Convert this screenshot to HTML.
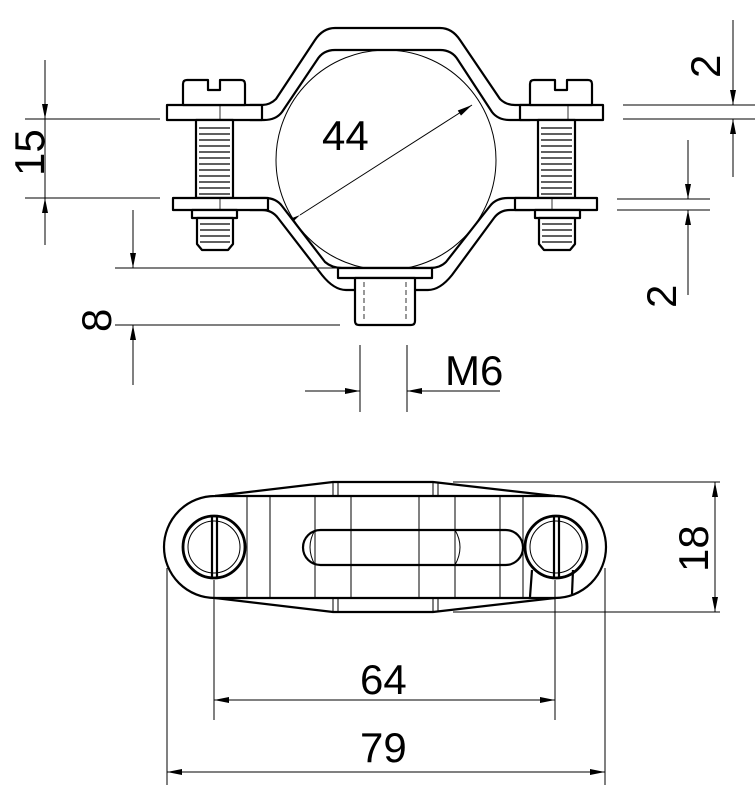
<!DOCTYPE html>
<html><head><meta charset="utf-8"><style>
html,body{margin:0;padding:0;background:#fff;}
svg{display:block;}
text{font-family:"Liberation Sans",sans-serif;font-size:42px;fill:#000;}
</style></head><body>
<svg width="755" height="794" viewBox="0 0 755 794" xmlns="http://www.w3.org/2000/svg">
<defs>
<marker id="a" viewBox="0 0 10 4" refX="10" refY="2" markerWidth="16" markerHeight="6" markerUnits="userSpaceOnUse" orient="auto"><path d="M0,0 L10,2 L0,4 z" fill="#000"/></marker>
</defs>
<g stroke="#000" fill="none" stroke-width="1">
<circle cx="386" cy="160" r="110" stroke-width="1"/>
<line x1="300" y1="215" x2="472" y2="105" marker-start="url(#a)" marker-end="url(#a)"/>
</g>
<g stroke="#000" fill="#fff" stroke-width="2.2" stroke-linejoin="round">
<path d="M250,105 L262,105 Q270,105 276,99 L315,40 Q323,28 335,28 L440,28 Q452,28 460,40 L500,99 Q506,105 515,105 L530,105 L530,120 L510,120 Q498,120 492,112 L458,60 Q452,50 440,50 L335,50 Q323,50 317,60 L282,112 Q276,120 264,120 L250,120 Z" fill="#fff"/>
<rect x="167" y="105" width="95" height="15"/>
<rect x="520" y="105" width="83" height="15"/>
<path d="M183,105 L183,84 Q183,80 187,80 L208,80 L208,90 L220,90 L220,80 L241,80 Q245,80 245,84 L245,105 Z"/>
<path d="M530,105 L530,84 Q530,80 534,80 L555,80 L555,90 L567,90 L567,80 L588,80 Q592,80 592,84 L592,105 Z"/>
<rect x="196" y="120" width="37" height="78"/>
<rect x="538" y="120" width="37" height="78"/>
<path d="M250,198 L265,198 Q276,198 282,206 L325,262 Q332,268 342,268 L430,268 Q440,268 446,262 L490,206 Q496,198 508,198 L530,198 L530,210 L510,210 Q500,210 494,218 L452,275 Q440,290 428,290 L346,290 Q334,290 322,275 L278,218 Q272,210 262,210 L250,210 Z"/>
<rect x="173" y="198" width="95" height="12"/>
<rect x="515" y="198" width="82" height="12"/>
<rect x="338" y="268" width="94" height="10"/>
<rect x="192" y="210" width="45" height="8"/>
<rect x="535" y="210" width="45" height="8"/>
<path d="M197,218 L233,218 L233,244 L228,250 L202,250 L197,244 Z"/>
<path d="M539,218 L575,218 L575,244 L570,250 L544,250 L539,244 Z"/>
<path d="M355,278 L415,278 L415,321 Q415,325 411,325 L359,325 Q355,325 355,321 Z"/>
</g>
<g stroke="#000" stroke-width="1.2">
<path d="M199,128 H230 M199,134 H230 M199,140 H230 M199,146 H230 M199,152 H230 M199,158 H230 M199,164 H230 M199,170 H230 M199,176 H230 M199,182 H230 M199,188 H230 M199,194 H230"/>
<path d="M541,128 H572 M541,134 H572 M541,140 H572 M541,146 H572 M541,152 H572 M541,158 H572 M541,164 H572 M541,170 H572 M541,176 H572 M541,182 H572 M541,188 H572 M541,194 H572"/>
<path d="M200,224 H230 M200,230 H230 M200,236 H230 M200,242 H230 M542,224 H572 M542,230 H572 M542,236 H572 M542,242 H572"/>
<path d="M220,105 V120 M568,105 V120 M220,198 V210 M552,198 V210" stroke-width="0.8"/>
<path d="M364,282 V322 M406,282 V322" stroke-dasharray="5,3" stroke-width="0.8"/>
</g>
<g stroke="#000" stroke-width="1" fill="none">
<path d="M25,119 H160 M25,198 H160"/>
<line x1="45" y1="60" x2="45" y2="119" marker-end="url(#a)"/>
<line x1="45" y1="119" x2="45" y2="198"/>
<line x1="45" y1="245" x2="45" y2="198" marker-end="url(#a)"/>
<path d="M115,268 H338 M115,325 H340"/>
<line x1="133" y1="210" x2="133" y2="268" marker-end="url(#a)"/>
<line x1="133" y1="385" x2="133" y2="325" marker-end="url(#a)"/>
<path d="M360,345 V412 M407,345 V412"/>
<line x1="305" y1="391" x2="360" y2="391" marker-end="url(#a)"/>
<line x1="500" y1="391" x2="407" y2="391" marker-end="url(#a)"/>
<path d="M623,105 H755 M623,119 H755 M617,199 H710 M617,210 H710"/>
<line x1="733" y1="20" x2="733" y2="105" marker-end="url(#a)"/>
<line x1="733" y1="177" x2="733" y2="119" marker-end="url(#a)"/>
<line x1="688" y1="140" x2="688" y2="199" marker-end="url(#a)"/>
<line x1="688" y1="295" x2="688" y2="210" marker-end="url(#a)"/>
</g>
<text x="322" y="150">44</text>
<text x="445" y="385">M6</text>
<text transform="translate(44,176) rotate(-90)">15</text>
<text transform="translate(111,332) rotate(-90)">8</text>
<text transform="translate(720,78) rotate(-90)">2</text>
<text transform="translate(676,308) rotate(-90)">2</text>
<g stroke="#000" fill="#fff" stroke-width="2.2">
<path d="M215,496 L333,482 L433,482 L555,496 A51,51 0 0 1 555,598 L433,612 L333,612 L215,598 A51,51 0 0 1 215,496 Z"/>
<path d="M215,496 H555 M215,598 H555" fill="none"/>
<rect x="303" y="530" width="220" height="35" rx="17.5"/>
<circle cx="214" cy="547" r="31" stroke-width="2.8"/>
<circle cx="556" cy="547" r="31" stroke-width="2.8"/>
<path d="M212,517 V577 M217,517 V577 M554,517 V577 M559,517 V577" fill="none"/>
<path d="M532,570 L530,597 M573,570 L572,594" fill="none"/>
</g>
<g stroke="#000" fill="none" stroke-width="1">
<circle cx="214" cy="547" r="26"/>
<circle cx="556" cy="547" r="26"/>
<path d="M247,497 V597 M270,497 V597 M315,497 V597 M351,497 V597 M419,497 V597 M455,497 V597 M500,497 V597 M523,497 V597"/>
<path d="M333,482 V496 M338,482 V496 M433,482 V496 M438,482 V496 M333,598 V612 M338,598 V612 M433,598 V612 M438,598 V612"/>
<path d="M315,530 Q305,547 315,565 M455,530 Q465,547 455,565"/>
<path d="M453,482 H720 M453,612 H720"/>
<line x1="715" y1="547" x2="715" y2="482" marker-end="url(#a)"/>
<line x1="715" y1="547" x2="715" y2="612" marker-end="url(#a)"/>
<path d="M214,580 V720 M555,580 V720 M167,568 V785 M605,568 V785"/>
<line x1="385" y1="700" x2="214" y2="700" marker-end="url(#a)"/>
<line x1="385" y1="700" x2="555" y2="700" marker-end="url(#a)"/>
<line x1="385" y1="772" x2="167" y2="772" marker-end="url(#a)"/>
<line x1="385" y1="772" x2="605" y2="772" marker-end="url(#a)"/>
</g>
<text x="360" y="694">64</text>
<text x="360" y="762">79</text>
<text transform="translate(708,572) rotate(-90)">18</text>
</svg>
</body></html>
